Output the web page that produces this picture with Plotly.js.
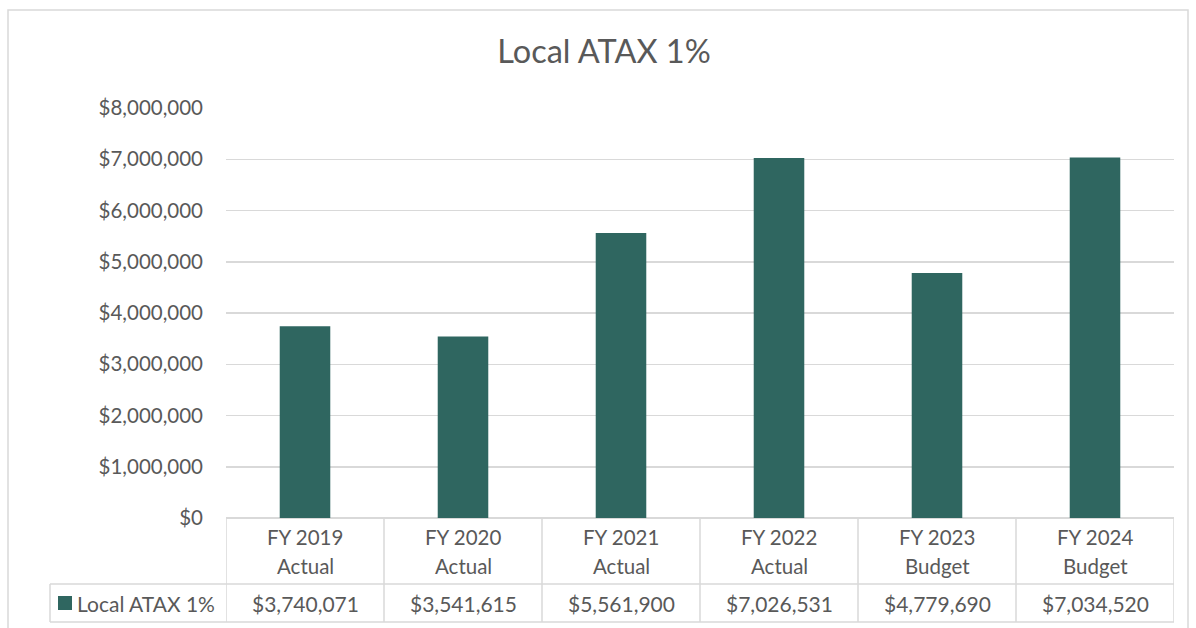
<!DOCTYPE html>
<html>
<head>
<meta charset="utf-8">
<script src="https://cdn.plot.ly/plotly-3.0.1.min.js"></script>
<style>
html,body{margin:0;padding:0;background:#fff;}
#chart{width:1196px;height:628px;}
</style>
</head>
<body>
<div id="chart"></div>
<script>
const categoryYears = ["FY 2019","FY 2020","FY 2021","FY 2022","FY 2023","FY 2024"];
const categoryKinds = ["Actual","Actual","Actual","Actual","Budget","Budget"];
const values = [3740071, 3541615, 5561900, 7026531, 4779690, 7034520];
const valueLabels = ["$3,740,071","$3,541,615","$5,561,900","$7,026,531","$4,779,690","$7,034,520"];
const seriesName = "Local ATAX 1%";
const titleText = "Local ATAX 1%";

const W = 1196, H = 628;
const L = 226, R = 1174, T = 108, B = 518;
const pw = R - L, ph = B - T;
const px = x => (x - L) / pw;
const py = y => (B - y) / ph;

const font = "Lato, 'Open Sans', sans-serif";
const txt = "#595959";
const line = "#d9d9d9";
const barColor = "#2F6660";

const shapes = [];
const annotations = [];
// outer chart border
shapes.push({type:"rect", xref:"paper", yref:"paper", x0:px(8), x1:px(1188), y0:py(640), y1:py(10), line:{color:line,width:1.5}, fillcolor:"rgba(0,0,0,0)"});
// table lines
const rowDiv = 584, tblBot = 622, tblLeft = 50;
shapes.push({type:"line", xref:"paper", yref:"paper", x0:px(tblLeft), x1:1, y0:py(rowDiv), y1:py(rowDiv), line:{color:line,width:1.5}});
shapes.push({type:"line", xref:"paper", yref:"paper", x0:px(tblLeft), x1:1, y0:py(tblBot), y1:py(tblBot), line:{color:line,width:1.5}});
shapes.push({type:"line", xref:"paper", yref:"paper", x0:px(tblLeft), x1:px(tblLeft), y0:py(rowDiv), y1:py(tblBot), line:{color:line,width:1.5}});
for (let i = 0; i <= categoryYears.length; i++) {
  shapes.push({type:"line", xref:"x", yref:"paper", x0:i-0.5, x1:i-0.5, y0:0, y1:py(tblBot), line:{color:line,width:1.5}});
}
// legend key
shapes.push({type:"rect", xref:"paper", yref:"paper", x0:px(58), x1:px(72), y0:py(610), y1:py(596), line:{width:0}, fillcolor:barColor});
annotations.push({xref:"paper", yref:"paper", x:px(75), y:py(603), xanchor:"left", yanchor:"middle", text:seriesName, showarrow:false, font:{family:font,size:21,color:txt}});

categoryYears.forEach((c, i) => {
  annotations.push({xref:"x", yref:"paper", x:i, y:py(537), xanchor:"center", yanchor:"middle", text:c, showarrow:false, font:{family:font,size:20.5,color:txt}});
  annotations.push({xref:"x", yref:"paper", x:i, y:py(566), xanchor:"center", yanchor:"middle", text:categoryKinds[i], showarrow:false, font:{family:font,size:20.5,color:txt}});
  annotations.push({xref:"x", yref:"paper", x:i, y:py(603), xanchor:"center", yanchor:"middle", text:valueLabels[i], showarrow:false, font:{family:font,size:21,color:txt}});
});

const trace = {
  type:"bar",
  x: categoryYears.map((c,i)=>i),
  y: values,
  name: seriesName,
  marker:{color:barColor},
  width:0.32,
  hoverinfo:"skip"
};

const layout = {
  width:W, height:H,
  margin:{l:L, r:W-R, t:T, b:H-B},
  paper_bgcolor:"#fff", plot_bgcolor:"#fff",
  showlegend:false,
  title:{text:titleText, x:0.505, xanchor:"center", y:1-52/H, yanchor:"middle", yref:"container", font:{family:font,size:32.5,color:txt}},
  xaxis:{range:[-0.5, categoryYears.length-0.5], showticklabels:false, showgrid:false, zeroline:false, showline:false, ticks:"", fixedrange:true},
  yaxis:{range:[0,8000000], dtick:1000000, tickformat:"$,.0f", showgrid:true, gridcolor:line, gridwidth:1.5, zeroline:true, zerolinecolor:line, zerolinewidth:1.5, showline:false, ticks:"", ticklabelstandoff:22, tickfont:{family:font,size:20.5,color:txt}, fixedrange:true},
  shapes:shapes,
  annotations:annotations
};

Plotly.newPlot("chart", [trace], layout, {displayModeBar:false, staticPlot:true});
</script>
</body>
</html>
